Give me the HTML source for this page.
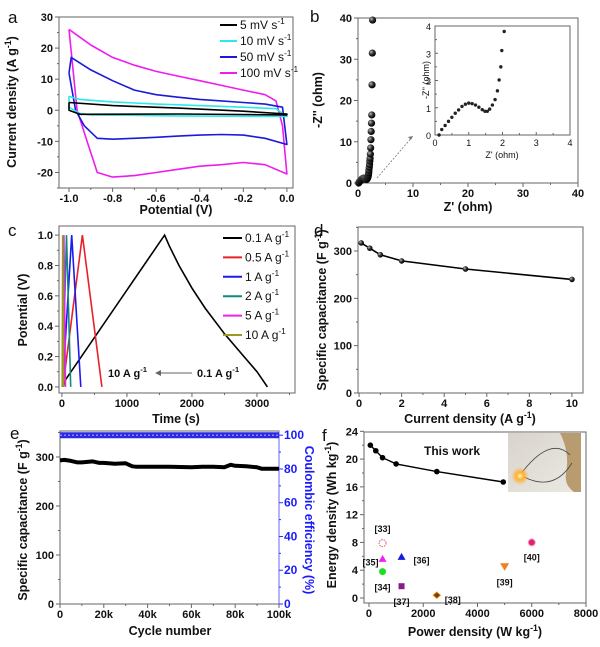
<!DOCTYPE html>
<html><head><meta charset="utf-8"><style>
html,body{margin:0;padding:0;background:#fff}
svg{display:block;font-family:"Liberation Sans",Arial,sans-serif}
.t{font-weight:bold;font-size:11px;fill:#111}
.ti{font-weight:bold;font-size:12.5px;fill:#111}
.pl{font-size:17px;fill:#111}
.lg{font-size:12px;fill:#111}
</style></head><body>
<svg id="fig" width="600" height="647" viewBox="0 0 600 647" xmlns="http://www.w3.org/2000/svg">
<defs>
<radialGradient id="ball" cx="35%" cy="35%" r="65%"><stop offset="0" stop-color="#bbb"/><stop offset="0.5" stop-color="#333"/><stop offset="1" stop-color="#000"/></radialGradient>
<linearGradient id="photo" x1="0" y1="0" x2="1" y2="1"><stop offset="0" stop-color="#d8d4cc"/><stop offset="1" stop-color="#ece9e3"/></linearGradient>
<radialGradient id="glow"><stop offset="0" stop-color="#fff8c0"/><stop offset="0.4" stop-color="#ffb030"/><stop offset="1" stop-color="#ffb030" stop-opacity="0"/></radialGradient>
</defs>
</svg>
<script>
// ---------- data ----------
const cv5V=[-1.0,-0.8,-0.5,-0.2,0,0,-0.5,-0.95,-1.0,-1.0];
const cv5I=[2.5,1.5,0.7,-0.3,-1.2,-1.5,-1.2,-1.3,0,2.5];
const cv10V=[-1.0,-0.95,-0.8,-0.6,-0.4,-0.2,-0.05,0,0,-0.5,-0.9,-0.95,-1.0,-1.0];
const cv10I=[4.5,3.5,2.7,2,1.5,1,0.5,-2,-2,-1.8,-1.5,-1,1,4.5];
const cv50V=[-1.0,-0.99,-0.9,-0.8,-0.7,-0.6,-0.5,-0.4,-0.3,-0.2,-0.1,-0.02,0,-0.1,-0.2,-0.3,-0.4,-0.5,-0.6,-0.7,-0.8,-0.87,-0.93,-0.97,-1.0];
const cv50I=[12,17,13,9.5,6.5,5,4.2,3.5,3,2.5,2,1,-11,-9,-8,-7.8,-8,-8.3,-8.7,-9,-9.3,-9,-5,0,12];
const cv100V=[-1.0,-0.95,-0.9,-0.8,-0.7,-0.6,-0.5,-0.4,-0.3,-0.2,-0.1,-0.05,-0.02,0,-0.1,-0.2,-0.3,-0.4,-0.5,-0.6,-0.7,-0.8,-0.87,-0.917,-0.963,-1.0];
const cv100I=[26,23.5,21,17,14.5,12.5,11,9.5,8,6.5,5,3,-5,-20.5,-17.5,-16.8,-17.5,-18,-19,-20,-21,-21.5,-20,-10,0,26];
const zRe=[0.12,0.2,0.3,0.4,0.5,0.6,0.7,0.8,0.9,1.0,1.1,1.2,1.3,1.4,1.48,1.55,1.62,1.7,1.78,1.85,1.9,1.95,1.98,2.05,2.1,2.15,2.2,2.25,2.3,2.35,2.4,2.45,2.5,2.55,2.6,2.65];
const zIm=[0,0.2,0.35,0.5,0.65,0.8,0.92,1.05,1.13,1.17,1.15,1.1,1.02,0.93,0.87,0.87,0.95,1.1,1.3,1.62,2.02,2.5,3.1,3.8,4.5,5.3,6,7,8.5,10.5,12.5,14.5,16.5,23.8,31.5,39.5];
const gcdLabels=["0.1 A g","0.5 A g","1 A g","2 A g","5 A g","10 A g"];
const gcdT=[[20,60,1580,1650,1800,2000,2200,2500,2800,3000,3160],[15,315,615],[10,150,290],[8,70,135],[6,30,55],[4,12,25]];
const gcdV=[[0,0.05,1,0.93,0.8,0.65,0.52,0.35,0.2,0.1,0],[0,1,0],[0,1,0],[0,1,0],[0,1,0],[0,1,0]];
const rateI=[0.1,0.5,1,2,5,10];
const rateC=[317,306,292,279,262,240];
const cycN=[0,2000,5000,8000,10000,15000,18000,20000,25000,30000,33000,35000,40000,50000,60000,65000,70000,75000,78000,80000,85000,90000,92000,95000,100000];
const cycC=[293,294,292,289,289,291,288,288,286,287,281,280,280,280,279,280,280,279,284,282,281,279,276,276,276];
const ceN=[0,10000,20000,30000,40000,50000,60000,70000,80000,90000,100000];
const ceV=[100,100,100,100,100,100,100,100,100,100,100];
const ragP=[50,250,500,1000,2500,4950];
const ragE=[22,21.2,20.2,19.3,18.2,16.7];
const refLbl=["[33]","[35]","[34]","[36]","[37]","[38]","[39]","[40]"];
const refP=[500,500,500,1200,1200,2500,5000,6000];
const refE=[7.9,5.7,3.8,6,1.7,0.4,4.5,8];

const NS="http://www.w3.org/2000/svg";
const svg=document.getElementById('fig');
function mk(tag,attrs,parent,name){
  const e=document.createElementNS(NS,tag);
  for(const k in attrs)e.setAttribute(k,attrs[k]);
  
  
  (parent||svg).appendChild(e);return e;
}
function scale(d0,d1,r0,r1){return v=>r0+(v-d0)/(d1-d0)*(r1-r0);}
function txt(x,y,s,cls,name,anchor,extra){const e=mk('text',Object.assign({x:x,y:y,class:cls,'text-anchor':anchor||'middle'},extra||{}),null,name);e.textContent=s;return e;}
function sup(e,base,exp,rest){e.textContent='';const a=document.createElementNS(NS,'tspan');a.textContent=base;e.appendChild(a);
  const b=document.createElementNS(NS,'tspan');b.setAttribute('dy','-5');b.setAttribute('font-size','0.7em');b.textContent=exp;e.appendChild(b);
  const c=document.createElementNS(NS,'tspan');c.setAttribute('dy','5');c.textContent=rest||'';e.appendChild(c);}
function axes(p){
  const g=mk('g',{},null,p.name+'-axes');
  mk('rect',{x:p.x0,y:p.y0,width:p.x1-p.x0,height:p.y1-p.y0,fill:'none',stroke:p.frame||'#666','stroke-width':1},g,p.name+'-frame');
  const X=scale(p.xd[0],p.xd[1],p.x0,p.x1),Y=scale(p.yd[0],p.yd[1],p.y1,p.y0);
  const fs=p.small?'font-size:9px;font-weight:normal':'';
  p.xt.forEach((v,i)=>{const x=X(v);mk('line',{x1:x,x2:x,y1:p.y1,y2:p.y1+(p.small?-3:4),stroke:'#666'},g,p.name+'-x-tick');
    txt(x,p.y1+(p.small?11:14),p.xl[i],'t',p.name+'-x-tick-label','middle',{style:fs});});
  (p.xm||[]).forEach(v=>{const x=X(v);mk('line',{x1:x,x2:x,y1:p.y1,y2:p.y1+(p.small?-2:2),stroke:'#666'},g,p.name+'-x-minor-tick');});
  p.yt.forEach((v,i)=>{const y=Y(v);mk('line',{x1:p.x0,x2:p.x0+(p.small?3:-4),y1:y,y2:y,stroke:'#666'},g,p.name+'-y-tick');
    txt(p.x0-(p.small?4:6),y+4,p.yl[i],'t',p.name+'-y-tick-label','end',{style:fs});});
  (p.ym||[]).forEach(v=>{const y=Y(v);mk('line',{x1:p.x0,x2:p.x0+(p.small?2:-2),y1:y,y2:y,stroke:'#666'},g,p.name+'-y-minor-tick');});
  return {X,Y};
}
function path(X,Y,xs,ys,attrs,name){let d='';xs.forEach((v,i)=>{d+=(i?'L':'M')+X(v).toFixed(1)+','+Y(ys[i]).toFixed(1);});return mk('path',Object.assign({d:d,fill:'none'},attrs),null,name);}
function rng(a,b,s){const r=[];for(let v=a;v<=b+1e-9;v+=s)r.push(+v.toFixed(6));return r;}

[['a',8,23],['b',310,22],['c',8,236],['d',314,236],['e',10,439],['f',322,441]].forEach(l=>txt(l[1],l[2],l[0],'pl','panel-label-'+l[0],'start'));

// ---------- a ----------
(function(){
 const A=axes({name:'cv',x0:59,x1:293,y0:17,y1:188,xd:[-1.046,0.028],yd:[-25,30],xt:rng(-1,0,0.2),xl:['-1.0','-0.8','-0.6','-0.4','-0.2','0.0'],xm:rng(-0.9,-0.1,0.2),yt:rng(-20,30,10),yl:['-20','-10','0','10','20','30'],ym:rng(-25,25,10)});
 const sets=[[cv100V,cv100I,'#ee1cee','100'],[cv50V,cv50I,'#1a1ad8','50'],[cv10V,cv10I,'#2ee8e8','10'],[cv5V,cv5I,'#000','5']];
 sets.forEach(s=>path(A.X,A.Y,s[0],s[1],{stroke:s[2],'stroke-width':1.6,'stroke-linejoin':'round'},'cv-curve-'+s[3]+'mvs'));
 const lg=[['5 mV s','#000'],['10 mV s','#2ee8e8'],['50 mV s','#1a1ad8'],['100 mV s','#ee1cee']];
 lg.forEach((l,i)=>{const y=25+i*16;mk('line',{x1:220,x2:237,y1:y,y2:y,stroke:l[1],'stroke-width':2},null,'legend-swatch');
  const t=txt(240,y+4,'','lg','legend-entry','start');sup(t,l[0],'-1');});
 const ty=txt(0,0,'','ti','cv-y-axis-title','middle',{transform:'translate(16,102) rotate(-90)'});sup(ty,'Current density (A g','-1',')');
 txt(176,214,'Potential (V)','ti','cv-x-axis-title');
})();

// ---------- b ----------
(function(){
 const A=axes({name:'eis',x0:358,x1:578,y0:18,y1:183,xd:[0,40],yd:[0,40],xt:rng(0,40,10),xl:['0','10','20','30','40'],xm:rng(5,35,10),yt:rng(0,40,10),yl:['0','10','20','30','40'],ym:rng(5,35,10)});
 zRe.forEach((v,i)=>mk('circle',{cx:A.X(v),cy:A.Y(zIm[i]),r:3.6,fill:'url(#ball)'},null,'eis-point'));
 mk('line',{x1:377,y1:178,x2:413,y2:136,stroke:'#777','stroke-width':0.8,'stroke-dasharray':'2,1.5'},null,'zoom-arrow');
 mk('path',{d:'M413,136 l-5,1 l3,3 z',fill:'#777'},null,'zoom-arrow-head');
 mk('rect',{x:435,y:26,width:135,height:109,fill:'#fff'},null,'inset-bg');
 const B=axes({name:'eis-inset',small:true,x0:435,x1:570,y0:26,y1:135,xd:[0,4],yd:[0,4],xt:rng(0,4,1),xl:['0','1','2','3','4'],xm:rng(0.5,3.5,1),yt:rng(0,4,1),yl:['0','1','2','3','4'],ym:rng(0.5,3.5,1)});
 zRe.forEach((v,i)=>{if(zIm[i]<=4)mk('circle',{cx:B.X(v),cy:B.Y(zIm[i]),r:1.7,fill:'#222'},null,'inset-point');});
 txt(0,0,"-Z'' (ohm)",'t','inset-y-axis-title','middle',{transform:'translate(429,80) rotate(-90)',style:'font-size:9px;font-weight:normal'});
 txt(502,158,"Z' (ohm)",'t','inset-x-axis-title','middle',{style:'font-size:9px;font-weight:normal'});
 txt(0,0,"-Z'' (ohm)",'ti','eis-y-axis-title','middle',{transform:'translate(322,100) rotate(-90)'});
 txt(468,211,"Z' (ohm)",'ti','eis-x-axis-title');
})();

// ---------- c ----------
(function(){
 const A=axes({name:'gcd',x0:59,x1:295,y0:226,y1:393,xd:[-45,3585],yd:[-0.04,1.06],xt:rng(0,3000,1000),xl:['0','1000','2000','3000'],xm:rng(500,3500,1000),yt:rng(0,1,0.2),yl:['0.0','0.2','0.4','0.6','0.8','1.0'],ym:rng(0.1,0.9,0.2)});
 const cols=['#000','#e8202a','#1b1bf0','#108a80','#ee22ee','#9a9a20'];
 gcdT.forEach((t,i)=>path(A.X,A.Y,t,gcdV[i],{stroke:cols[i],'stroke-width':1.6},'gcd-curve'));
 gcdLabels.forEach((l,i)=>{const y=238+i*19.4;mk('line',{x1:223,x2:242,y1:y,y2:y,stroke:cols[i],'stroke-width':2},null,'legend-swatch');
  const t=txt(245,y+4,'','lg','legend-entry','start');sup(t,l,'-1');});
 const a=txt(108,377,'','t','annotation-10','start');sup(a,'10 A g','-1');
 mk('line',{x1:159,x2:192,y1:373,y2:373,stroke:'#666'},null,'annotation-arrow');
 mk('path',{d:'M155,373 l6,-3 l0,6 z',fill:'#666'},null,'annotation-arrow-head');
 const b=txt(197,377,'','t','annotation-0.1','start');sup(b,'0.1 A g','-1');
 txt(0,0,'Potential (V)','ti','gcd-y-axis-title','middle',{transform:'translate(27,310) rotate(-90)'});
 txt(176,423,'Time (s)','ti','gcd-x-axis-title');
})();

// ---------- d ----------
(function(){
 const A=axes({name:'rate',x0:358,x1:583,y0:227,y1:393,xd:[-0.05,10.52],yd:[0,350.7],xt:rng(0,10,2),xl:['0','2','4','6','8','10'],xm:rng(1,9,2),yt:rng(0,300,100),yl:['0','100','200','300'],ym:rng(50,350,100)});
 path(A.X,A.Y,rateI,rateC,{stroke:'#000','stroke-width':1.6},'rate-line');
 rateI.forEach((v,i)=>mk('circle',{cx:A.X(v),cy:A.Y(rateC[i]),r:2.8,fill:'url(#ball)'},null,'rate-point'));
 const ty=txt(0,0,'','ti','rate-y-axis-title','middle',{transform:'translate(326,310) rotate(-90)'});sup(ty,'Specific capacitance (F g','-1',')');
 const tx=txt(470,423,'','ti','rate-x-axis-title');sup(tx,'Current density (A g','-1',')');
})();

// ---------- e ----------
(function(){
 const A=axes({name:'cycle',x0:60,x1:279,y0:431,y1:604,xd:[0,100000],yd:[0,353],xt:rng(0,100000,20000),xl:['0','20k','40k','60k','80k','100k'],xm:rng(10000,90000,20000),yt:rng(0,300,100),yl:['0','100','200','300'],ym:rng(50,350,100)});
 const Y2=scale(0,102.5,604,431);
 mk('line',{x1:279,x2:279,y1:431,y2:604,stroke:'#8080ff','stroke-width':1.2},null,'right-axis-line');
 [0,20,40,60,80,100].forEach(v=>{const y=Y2(v);mk('line',{x1:279,x2:283,y1:y,y2:y,stroke:'#3030ff'},null,'right-y-tick');
  txt(284,y+4,String(v),'t','right-y-tick-label','start',{style:'fill:#1a1aff;font-size:12px'});});
 [10,30,50,70,90].forEach(v=>{const y=Y2(v);mk('line',{x1:279,x2:281,y1:y,y2:y,stroke:'#3030ff'},null,'right-y-minor-tick');});
 let d='';ceN.forEach((v,i)=>{d+=(i?'L':'M')+A.X(v).toFixed(1)+','+Y2(ceV[i]).toFixed(1);});
 mk('path',{d:d,fill:'none',stroke:'#2a2ae0','stroke-width':6},null,'coulombic-efficiency-series');
 mk('path',{d:d,fill:'none',stroke:'#8a8aff','stroke-width':1.5,'stroke-dasharray':'2,2'},null,'coulombic-efficiency-texture');
 path(A.X,A.Y,cycN,cycC,{stroke:'#000','stroke-width':4,'stroke-linejoin':'round'},'capacitance-series');
 const ty=txt(0,0,'','ti','cycle-y-axis-title','middle',{transform:'translate(27,520) rotate(-90)'});sup(ty,'Specific capacitance (F g','-1',')');
 txt(170,635,'Cycle number','ti','cycle-x-axis-title');
 txt(0,0,'Coulombic efficiency (%)','ti','ce-y-axis-title','middle',{transform:'translate(305,520) rotate(90)',style:'fill:#1a1aff'});
})();

// ---------- f ----------
(function(){
 const A=axes({name:'ragone',x0:364,x1:586,y0:432,y1:603,xd:[-184,8000],yd:[-0.72,23.9],xt:rng(0,8000,2000),xl:['0','2000','4000','6000','8000'],xm:rng(1000,7000,2000),yt:rng(0,24,4),yl:['0','4','8','12','16','20','24'],ym:rng(2,22,4)});
 mk('rect',{x:508,y:433,width:73,height:59,fill:'url(#photo)'},null,'device-photo');
 mk('path',{d:'M560,433 q10,20 6,40 q-2,12 8,19 l7,0 l0,-59 z',fill:'#b89c70'},null,'photo-braid');
 mk('path',{d:'M520,475 q30,-40 50,-20 M524,477 q30,15 48,-14',fill:'none',stroke:'#444','stroke-width':0.8},null,'photo-wire');
 mk('circle',{cx:520,cy:476,r:9,fill:'url(#glow)'},null,'photo-led');
 txt(452,455,'This work','t','this-work-label','middle',{style:'font-size:12px'});
 path(A.X,A.Y,ragP,ragE,{stroke:'#000','stroke-width':1.4},'this-work-line');
 ragP.forEach((v,i)=>mk('circle',{cx:A.X(v),cy:A.Y(ragE[i]),r:2.8,fill:'#000'},null,'this-work-point'));
 const offs=[[0,-14],[-12,4],[0,16],[20,4],[0,16],[16,5],[0,16],[0,15]];
 refP.forEach((v,i)=>{const x=A.X(v),y=A.Y(refE[i]);
  if(i==0)mk('circle',{cx:x,cy:y,r:3.5,fill:'none',stroke:'#e05070','stroke-width':1,'stroke-dasharray':'1.5,1'},null,'ref-marker');
  if(i==1)mk('path',{d:`M${x-4},${y+3.5}L${x+4},${y+3.5}L${x},${y-3.5}z`,fill:'#ee22ee'},null,'ref-marker');
  if(i==2)mk('circle',{cx:x,cy:y,r:3.5,fill:'#22dd22'},null,'ref-marker');
  if(i==3)mk('path',{d:`M${x-4},${y+3.5}L${x+4},${y+3.5}L${x},${y-3.5}z`,fill:'#1a1ae0'},null,'ref-marker');
  if(i==4)mk('rect',{x:x-3,y:y-3,width:6,height:6,fill:'#8a1a8a'},null,'ref-marker');
  if(i==5)mk('path',{d:`M${x-4},${y}L${x},${y-3.5}L${x+4},${y}L${x},${y+3.5}z`,fill:'#8a3a10',stroke:'#f0c040','stroke-width':0.8},null,'ref-marker');
  if(i==6)mk('path',{d:`M${x-4.5},${y-3.5}L${x+4.5},${y-3.5}L${x},${y+4}z`,fill:'#f08020'},null,'ref-marker');
  if(i==7)mk('circle',{cx:x,cy:y,r:3.5,fill:'#e02070',stroke:'#f6a0c0'},null,'ref-marker');
  txt(x+offs[i][0],y+offs[i][1]+3,refLbl[i],'t','ref-label','middle',{style:'font-size:9px'});});
 const ty=txt(0,0,'','ti','ragone-y-axis-title','middle',{transform:'translate(336,515) rotate(-90)'});sup(ty,'Energy density (Wh kg','-1',')');
 const tx=txt(475,636,'','ti','ragone-x-axis-title');sup(tx,'Power density (W kg','-1',')');
})();
</script>
</body></html>
